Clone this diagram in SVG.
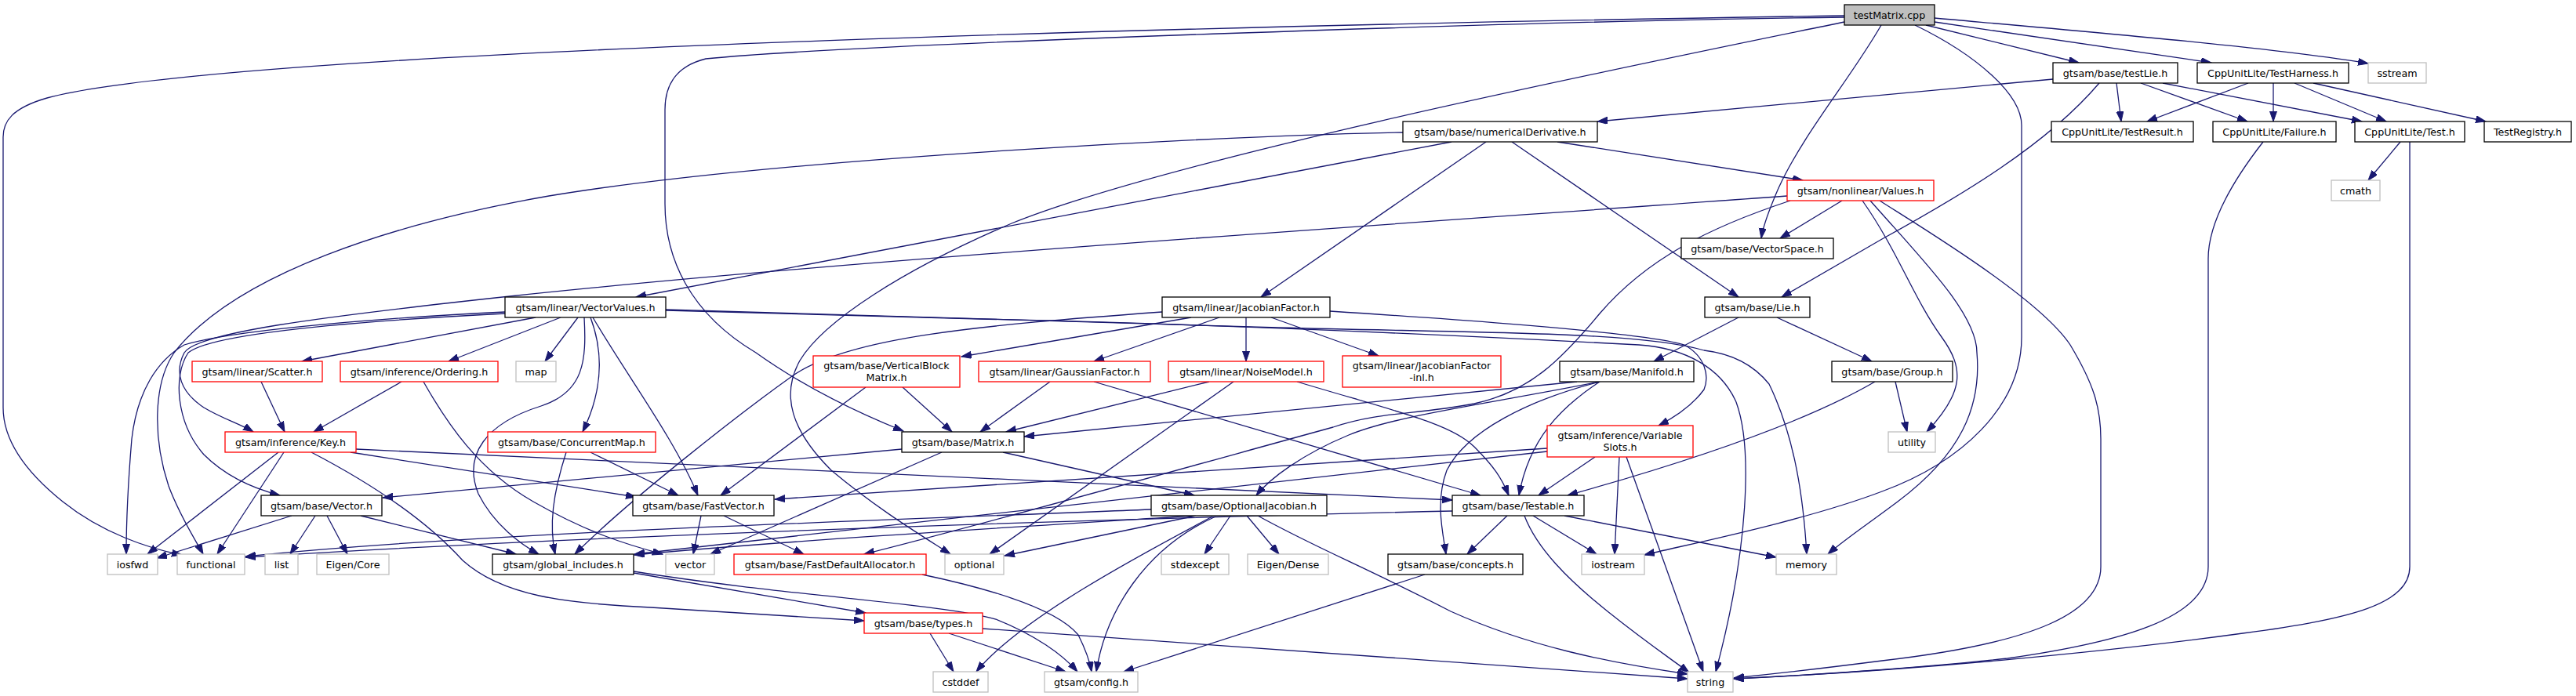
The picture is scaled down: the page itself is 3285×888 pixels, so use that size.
<svg xmlns="http://www.w3.org/2000/svg" width="3285" height="888" viewBox="0 0 3285 888">
<style>
.n rect{fill:#ffffff;stroke:#000000;stroke-width:1.3}
.n.r rect{stroke:#ff0000}
.n.g rect{stroke:#bfbfbf}
.n.root rect{fill:#bfbfbf}
text{font-family:"DejaVu Sans",sans-serif;font-size:12.7px;text-anchor:middle;fill:#000000}
#edges path{fill:none;stroke:#191970;stroke-width:1.3;marker-end:url(#a)}
</style>
<defs>
<marker id="a" markerUnits="userSpaceOnUse" markerWidth="14" markerHeight="10" refX="13" refY="4.5" orient="auto">
<path d="M0,0 L13,4.5 L0,9 z" fill="#191970" stroke="#191970" stroke-width="1"/>
</marker>
</defs>
<rect width="3285" height="888" fill="#ffffff"/>
<g id="edges">
<path d="M2352,20 C1700,30 300,60 60,125 C15,138 4,155 4,175 L4,520 C4,560 30,600 80,640 C130,680 190,700 232,708"/>
<path d="M2352,22 C2000,26 1100,55 900,75 C860,85 848,110 848,140 L848,260 C848,330 880,400 964,450 C1020,490 1090,525 1152,550"/>
<path d="M2352,28 C2100,80 1500,200 1290,285 C1150,345 1050,410 1020,460 C995,505 1010,550 1060,600 C1120,650 1170,680 1212,707"/>
<path d="M2399,32 C2360,100 2300,170 2268,240 C2255,270 2248,290 2246,304"/>
<path d="M2456,32 L2651,80"/>
<path d="M2467,28 L2820,80"/>
<path d="M2467,23 C2600,35 2900,60 3020,81"/>
<path d="M2442,32 C2520,70 2578,120 2578,160 L2578,430 C2578,520 2500,590 2400,627 C2300,665 2150,695 2097,708"/>
<path d="M2618,101 L2037,155"/>
<path d="M2677,106 C2610,185 2500,250 2400,305 L2272,379"/>
<path d="M2699,106 L2705,155"/>
<path d="M2730,106 L2866,155"/>
<path d="M2758,106 L3012,155"/>
<path d="M2867,106 L2738,155"/>
<path d="M2899,106 L2899,155"/>
<path d="M2926,106 L3043,155"/>
<path d="M2950,106 L3170,155"/>
<path d="M3061,181 L3020,230"/>
<path d="M3073,181 L3073,723 C3073,770 3000,790 2860,808 C2700,830 2450,855 2211,866"/>
<path d="M2886,181 C2840,240 2816,290 2816,330 L2816,723 C2816,790 2700,820 2560,840 C2450,852 2300,862 2211,866"/>
<path d="M2397,256 C2450,290 2600,380 2640,440 C2670,490 2679,520 2679,560 L2679,723 C2679,780 2600,820 2400,843 C2330,852 2260,860 2211,865"/>
<path d="M1789,169 C1600,172 1000,200 700,250 C500,285 300,350 222,450 C195,490 195,560 215,620 C230,660 250,690 259,707"/>
<path d="M1851,181 L811,379"/>
<path d="M1895,181 L1608,379"/>
<path d="M1928,181 L2217,379"/>
<path d="M1986,181 L2299,230"/>
<path d="M2349,256 L2270,304"/>
<path d="M2279,250 C1800,285 1100,330 650,378 C400,405 250,425 235,450 C222,475 230,500 260,520 C285,535 305,540 323,551"/>
<path d="M2283,256 C2180,290 2100,330 2040,400 C1990,460 1950,500 1880,515 C1800,530 1760,525 1700,545 C1500,600 1250,670 1102,707"/>
<path d="M2375,256 C2420,320 2440,380 2476,430 C2505,470 2505,500 2457,551"/>
<path d="M2385,256 C2450,330 2521,400 2521,450 C2527,520 2500,580 2420,640 C2380,670 2350,690 2331,707"/>
<path d="M644,398 C500,405 300,420 235,440 C200,460 175,500 168,560 C163,620 161,670 161,707"/>
<path d="M644,400 C450,410 270,425 240,450 C220,480 225,540 260,580 C290,610 330,625 357,632"/>
<path d="M683,405 L385,461"/>
<path d="M715,405 L572,461"/>
<path d="M737,405 L695,461"/>
<path d="M753,405 C770,450 768,500 743,551"/>
<path d="M756,405 C800,480 860,560 890,632"/>
<path d="M745,405 C748,460 745,500 690,518 C620,540 590,580 610,630 C630,670 665,695 687,707"/>
<path d="M849,395 L1630,418 C1900,425 2090,423 2173,447 C2215,452 2240,470 2256,490 C2290,560 2300,640 2304,707"/>
<path d="M849,396 L1250,407 C1600,415 1900,430 2090,440 C2150,444 2195,470 2214,513 C2235,570 2230,700 2188,857"/>
<path d="M1519,405 L1226,455"/>
<path d="M1555,405 L1395,461"/>
<path d="M1589,405 L1589,461"/>
<path d="M1621,405 L1758,454"/>
<path d="M1482,398 C1250,415 1080,430 1010,480 C940,530 800,640 733,707"/>
<path d="M1696,397 C1900,410 2100,425 2148,440 C2175,455 2180,480 2173,497 C2160,515 2140,530 2115,543"/>
<path d="M2217,405 L2109,461"/>
<path d="M2266,405 L2387,461"/>
<path d="M2391,487 C2300,540 2150,590 1999,632"/>
<path d="M2417,487 L2432,551"/>
<path d="M2011,487 L1306,557"/>
<path d="M2040,487 C1900,515 1780,530 1720,555 C1660,580 1620,610 1602,632"/>
<path d="M2040,487 C1990,520 1950,560 1937,632"/>
<path d="M2040,487 C1950,510 1870,550 1845,600 C1830,640 1840,680 1844,707"/>
<path d="M1973,572 L988,637"/>
<path d="M1973,576 L809,707"/>
<path d="M2034,583 L1962,632"/>
<path d="M2065,583 L2059,707"/>
<path d="M2074,583 L2172,857"/>
<path d="M1339,487 L1250,551"/>
<path d="M1395,487 L1888,632"/>
<path d="M1542,487 L1283,551"/>
<path d="M1573,487 L1262,707"/>
<path d="M1654,487 C1780,525 1850,540 1880,570 C1905,595 1915,610 1924,632"/>
<path d="M1151,494 L1214,551"/>
<path d="M1104,494 L919,632"/>
<path d="M722,577 C705,630 700,670 708,707"/>
<path d="M753,577 L865,632"/>
<path d="M1150,573 L488,635"/>
<path d="M1201,577 L906,707"/>
<path d="M1279,577 L1523,632"/>
<path d="M355,577 L188,707"/>
<path d="M362,577 L277,707"/>
<path d="M397,577 C470,615 540,660 590,715 C640,760 720,770 830,775 C950,782 1040,788 1102,792"/>
<path d="M447,577 L811,634"/>
<path d="M454,573 L1852,638"/>
<path d="M333,487 L363,551"/>
<path d="M512,487 L400,551"/>
<path d="M540,487 C570,540 610,600 680,640 C750,680 800,695 845,707"/>
<path d="M372,658 L200,712"/>
<path d="M402,658 L370,707"/>
<path d="M417,658 L443,707"/>
<path d="M460,658 L658,707"/>
<path d="M894,658 L884,707"/>
<path d="M923,658 L1025,707"/>
<path d="M1468,650 C1100,665 600,680 313,710"/>
<path d="M1523,658 C1300,672 1000,690 809,708"/>
<path d="M1525,658 L1281,709"/>
<path d="M1546,659 C1450,710 1300,790 1245,857"/>
<path d="M1550,659 C1460,700 1410,780 1398,857"/>
<path d="M1569,658 L1536,707"/>
<path d="M1590,658 L1631,707"/>
<path d="M1604,658 C1680,700 1740,723 1850,780 C1950,825 2050,845 2152,860"/>
<path d="M1852,652 C1500,660 800,680 313,711"/>
<path d="M1922,658 L1871,707"/>
<path d="M1955,658 L2036,707"/>
<path d="M1995,658 L2265,711"/>
<path d="M1944,658 C1960,700 2000,740 2050,780 C2100,820 2130,840 2154,858"/>
<path d="M808,731 L1104,782"/>
<path d="M808,729 C1000,760 1200,770 1270,790 C1320,810 1355,835 1374,857"/>
<path d="M1176,733 C1280,755 1350,780 1375,810 C1385,830 1390,845 1392,857"/>
<path d="M1817,733 L1433,857"/>
<path d="M1186,808 L1216,857"/>
<path d="M1210,808 L1359,857"/>
<path d="M1253,802 L2152,866"/>
</g>
<g id="n-testMatrix" class="n root"><rect x="2352" y="6" width="115" height="26"/><text x="2409.5" y="23.5">testMatrix.cpp</text></g>
<g id="n-testLie" class="n"><rect x="2618" y="80" width="159" height="26"/><text x="2697.5" y="97.5">gtsam/base/testLie.h</text></g>
<g id="n-TestHarness" class="n"><rect x="2802" y="80" width="193" height="26"/><text x="2898.5" y="97.5">CppUnitLite/TestHarness.h</text></g>
<g id="n-sstream" class="n g"><rect x="3020" y="80" width="74" height="26"/><text x="3057" y="97.5">sstream</text></g>
<g id="n-numericalDerivative" class="n"><rect x="1789" y="155" width="248" height="26"/><text x="1913" y="172.5">gtsam/base/numericalDerivative.h</text></g>
<g id="n-TestResult" class="n"><rect x="2616" y="155" width="181" height="26"/><text x="2706.5" y="172.5">CppUnitLite/TestResult.h</text></g>
<g id="n-Failure" class="n"><rect x="2822" y="155" width="157" height="26"/><text x="2900.5" y="172.5">CppUnitLite/Failure.h</text></g>
<g id="n-Test" class="n"><rect x="3003" y="155" width="140" height="26"/><text x="3073" y="172.5">CppUnitLite/Test.h</text></g>
<g id="n-TestRegistry" class="n"><rect x="3168" y="155" width="111" height="26"/><text x="3223.5" y="172.5">TestRegistry.h</text></g>
<g id="n-Values" class="n r"><rect x="2279" y="230" width="187" height="26"/><text x="2372.5" y="247.5">gtsam/nonlinear/Values.h</text></g>
<g id="n-cmath" class="n g"><rect x="2973" y="230" width="62" height="26"/><text x="3004" y="247.5">cmath</text></g>
<g id="n-VectorSpace" class="n"><rect x="2144" y="304" width="194" height="26"/><text x="2241" y="321.5">gtsam/base/VectorSpace.h</text></g>
<g id="n-VectorValues" class="n"><rect x="644" y="379" width="205" height="26"/><text x="746.5" y="396.5">gtsam/linear/VectorValues.h</text></g>
<g id="n-JacobianFactor" class="n"><rect x="1482" y="379" width="214" height="26"/><text x="1589" y="396.5">gtsam/linear/JacobianFactor.h</text></g>
<g id="n-Lie" class="n"><rect x="2174" y="379" width="134" height="26"/><text x="2241" y="396.5">gtsam/base/Lie.h</text></g>
<g id="n-Scatter" class="n r"><rect x="245" y="461" width="166" height="26"/><text x="328" y="478.5">gtsam/linear/Scatter.h</text></g>
<g id="n-Ordering" class="n r"><rect x="434" y="461" width="201" height="26"/><text x="534.5" y="478.5">gtsam/inference/Ordering.h</text></g>
<g id="n-map" class="n g"><rect x="658" y="461" width="51" height="26"/><text x="683.5" y="478.5">map</text></g>
<g id="n-VerticalBlockMatrix" class="n r"><rect x="1037" y="454" width="187" height="40"/><text x="1130.5" y="471.2">gtsam/base/VerticalBlock</text><text x="1130.5" y="485.8">Matrix.h</text></g>
<g id="n-GaussianFactor" class="n r"><rect x="1248" y="461" width="219" height="26"/><text x="1357.5" y="478.5">gtsam/linear/GaussianFactor.h</text></g>
<g id="n-NoiseModel" class="n r"><rect x="1490" y="461" width="198" height="26"/><text x="1589" y="478.5">gtsam/linear/NoiseModel.h</text></g>
<g id="n-JacobianFactorInl" class="n r"><rect x="1712" y="454" width="202" height="40"/><text x="1813" y="471.2">gtsam/linear/JacobianFactor</text><text x="1813" y="485.8">-inl.h</text></g>
<g id="n-Manifold" class="n"><rect x="1989" y="461" width="171" height="26"/><text x="2074.5" y="478.5">gtsam/base/Manifold.h</text></g>
<g id="n-Group" class="n"><rect x="2336" y="461" width="154" height="26"/><text x="2413" y="478.5">gtsam/base/Group.h</text></g>
<g id="n-Key" class="n r"><rect x="287" y="551" width="167" height="26"/><text x="370.5" y="568.5">gtsam/inference/Key.h</text></g>
<g id="n-ConcurrentMap" class="n r"><rect x="622" y="551" width="214" height="26"/><text x="729" y="568.5">gtsam/base/ConcurrentMap.h</text></g>
<g id="n-Matrix" class="n"><rect x="1150" y="551" width="156" height="26"/><text x="1228" y="568.5">gtsam/base/Matrix.h</text></g>
<g id="n-VariableSlots" class="n r"><rect x="1973" y="543" width="186" height="40"/><text x="2066" y="560.2">gtsam/inference/Variable</text><text x="2066" y="574.8">Slots.h</text></g>
<g id="n-utility" class="n g"><rect x="2408" y="551" width="60" height="26"/><text x="2438" y="568.5">utility</text></g>
<g id="n-Vector" class="n"><rect x="333" y="632" width="154" height="26"/><text x="410" y="649.5">gtsam/base/Vector.h</text></g>
<g id="n-FastVector" class="n"><rect x="807" y="632" width="180" height="26"/><text x="897" y="649.5">gtsam/base/FastVector.h</text></g>
<g id="n-OptionalJacobian" class="n"><rect x="1468" y="632" width="224" height="26"/><text x="1580" y="649.5">gtsam/base/OptionalJacobian.h</text></g>
<g id="n-Testable" class="n"><rect x="1852" y="632" width="168" height="26"/><text x="1936" y="649.5">gtsam/base/Testable.h</text></g>
<g id="n-iosfwd" class="n g"><rect x="137" y="707" width="64" height="26"/><text x="169" y="724.5">iosfwd</text></g>
<g id="n-functional" class="n g"><rect x="226" y="707" width="86" height="26"/><text x="269" y="724.5">functional</text></g>
<g id="n-list" class="n g"><rect x="338" y="707" width="42" height="26"/><text x="359" y="724.5">list</text></g>
<g id="n-EigenCore" class="n g"><rect x="404" y="707" width="92" height="26"/><text x="450" y="724.5">Eigen/Core</text></g>
<g id="n-global_includes" class="n"><rect x="628" y="707" width="180" height="26"/><text x="718" y="724.5">gtsam/global_includes.h</text></g>
<g id="n-vector" class="n g"><rect x="849" y="707" width="62" height="26"/><text x="880" y="724.5">vector</text></g>
<g id="n-FastDefaultAllocator" class="n r"><rect x="936" y="707" width="245" height="26"/><text x="1058.5" y="724.5">gtsam/base/FastDefaultAllocator.h</text></g>
<g id="n-optional" class="n g"><rect x="1205" y="707" width="75" height="26"/><text x="1242.5" y="724.5">optional</text></g>
<g id="n-stdexcept" class="n g"><rect x="1481" y="707" width="86" height="26"/><text x="1524" y="724.5">stdexcept</text></g>
<g id="n-EigenDense" class="n g"><rect x="1591" y="707" width="103" height="26"/><text x="1642.5" y="724.5">Eigen/Dense</text></g>
<g id="n-concepts" class="n"><rect x="1770" y="707" width="172" height="26"/><text x="1856" y="724.5">gtsam/base/concepts.h</text></g>
<g id="n-iostream" class="n g"><rect x="2017" y="707" width="80" height="26"/><text x="2057" y="724.5">iostream</text></g>
<g id="n-memory" class="n g"><rect x="2265" y="707" width="77" height="26"/><text x="2303.5" y="724.5">memory</text></g>
<g id="n-types" class="n r"><rect x="1102" y="782" width="151" height="26"/><text x="1177.5" y="799.5">gtsam/base/types.h</text></g>
<g id="n-cstddef" class="n g"><rect x="1190" y="857" width="70" height="26"/><text x="1225" y="874.5">cstddef</text></g>
<g id="n-config" class="n g"><rect x="1332" y="857" width="119" height="26"/><text x="1391.5" y="874.5">gtsam/config.h</text></g>
<g id="n-string" class="n g"><rect x="2152" y="857" width="58" height="26"/><text x="2181" y="874.5">string</text></g>
</svg>
